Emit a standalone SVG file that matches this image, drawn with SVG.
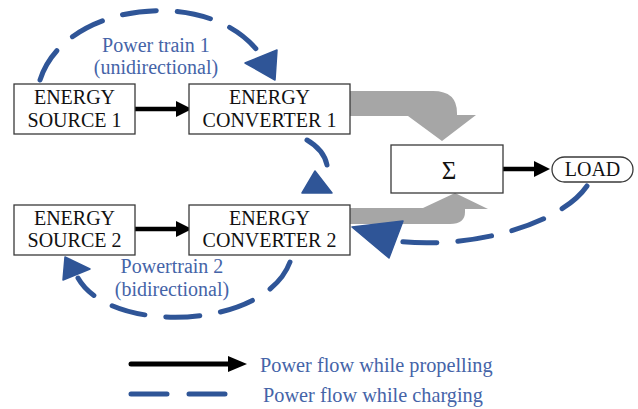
<svg xmlns="http://www.w3.org/2000/svg" width="638" height="409" viewBox="0 0 638 409">
<style>
.box{fill:#fff;stroke:#3a3a3a;stroke-width:1.3}
.t{font-family:"Liberation Serif","Times New Roman",serif;font-size:20px;fill:#111;text-anchor:middle}
.lbl{font-family:"Liberation Serif","Times New Roman",serif;font-size:20px;fill:#4564a8;text-anchor:middle}
.leg{font-family:"Liberation Serif","Times New Roman",serif;font-size:20.3px;fill:#4564a8}
.dash{fill:none;stroke:#2f5597;stroke-width:5;stroke-linecap:round;stroke-dasharray:34 21}
.ah{fill:#2f5597;stroke:#2f5597;stroke-width:1.5;stroke-linejoin:round}
.blk{stroke:#000;stroke-width:4.5;fill:none}
.gr{fill:#a6a6a6}
</style>
<g id="connectors">
  <path class="gr" d="M350,91 H433 Q457,91 457,113 V115 H476 L442,141 L408,116 H350 Z"/>
  <path class="gr" d="M350,208 H423 L455,193 L488,209 H465 V212 Q465,224 450,224 H350 Z"/>
  <line class="blk" x1="135" y1="109" x2="178" y2="109"/>
  <polygon points="176,101 192,109 176,117" fill="#000"/>
  <line class="blk" x1="135" y1="229" x2="178" y2="229"/>
  <polygon points="176,221 192,229 176,237" fill="#000"/>
  <line class="blk" x1="503" y1="169" x2="536" y2="169"/>
  <polygon points="534,161 550,169 534,177" fill="#000"/>
  <path class="dash" d="M40,80 C65,0 215,-15 262,57"/>
  <polygon class="ah" points="245,63 277,50 275,80"/>
  <path class="dash" style="stroke-dasharray:none" d="M307,140 Q324,150 327,165"/>
  <polygon class="ah" points="315,171 302,193 332,193"/>
  <path class="dash" d="M587,186 C560,225 470,250 395,241"/>
  <polygon class="ah" points="352,227 403,221 389,258"/>
  <path class="dash" d="M290,262 C265,330 110,335 78,278"/>
  <polygon class="ah" points="65,257 90,269 63,280"/>
</g>
<g id="source1">
  <rect class="box" x="14" y="84" width="121" height="50"/>
  <text class="t" x="74.5" y="104">ENERGY</text>
  <text class="t" x="74.5" y="127">SOURCE 1</text>
</g>
<g id="converter1">
  <rect class="box" x="189" y="84" width="161" height="50"/>
  <text class="t" x="269.5" y="104">ENERGY</text>
  <text class="t" x="269.5" y="127">CONVERTER 1</text>
</g>
<g id="source2">
  <rect class="box" x="14" y="205" width="121" height="50"/>
  <text class="t" x="74.5" y="225">ENERGY</text>
  <text class="t" x="74.5" y="247">SOURCE 2</text>
</g>
<g id="converter2">
  <rect class="box" x="189" y="205" width="161" height="50"/>
  <text class="t" x="269.5" y="225">ENERGY</text>
  <text class="t" x="269.5" y="247">CONVERTER 2</text>
</g>
<g id="sum">
  <rect class="box" x="391" y="145" width="112" height="48"/>
  <text class="t" x="449" y="179" style="font-size:25px">Σ</text>
</g>
<g id="load">
  <rect class="box" x="552" y="157" width="81" height="25" rx="12.5"/>
  <text class="t" x="592.5" y="176">LOAD</text>
</g>
<g id="labels">
  <text class="lbl" x="156" y="52">Power train 1</text>
  <text class="lbl" x="156" y="74">(unidirectional)</text>
  <text class="lbl" x="172" y="273">Powertrain 2</text>
  <text class="lbl" x="172" y="296">(bidirectional)</text>
</g>
<g id="legend">
  <line stroke="#000" stroke-width="5" stroke-linecap="round" x1="131" y1="364" x2="230" y2="364"/>
  <polygon points="228,356 247,364 228,372" fill="#000"/>
  <line stroke="#2f5597" stroke-width="5" stroke-linecap="round" stroke-dasharray="36 22" x1="131" y1="394" x2="226" y2="394"/>
  <text class="leg" x="260" y="372">Power flow while propelling</text>
  <text class="leg" x="263" y="402">Power flow while charging</text>
</g>
</svg>
